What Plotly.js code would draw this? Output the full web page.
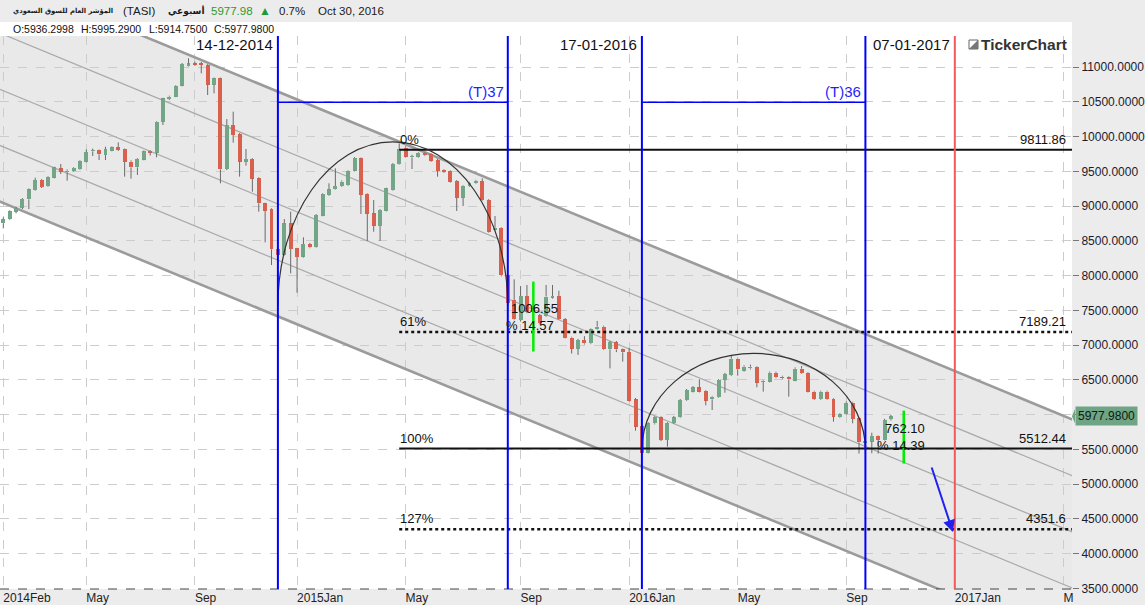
<!DOCTYPE html>
<html><head><meta charset="utf-8">
<script src="https://cdn.plot.ly/plotly-3.0.1.min.js"></script>
<style>html,body{margin:0;padding:0;background:#ececec;overflow:hidden}#chart{width:1145px;height:605px}</style>
</head><body><div id="chart"></div>
<script>
// ---- weekly OHLC data (bar index 0 = first week of Feb 2014, last = week of Oct 30 2016)
const opens  = [8753,8811,8921,8974,9098,9233,9377,9290,9410,9545,9487,9511,9535,9640,9789,9808,9736,9799,9847,9823,
                9640,9559,9669,9794,9770,10216,10542,10576,10734,11017,11056,11056,11032,10749,10840,9535,10168,10034,9640,9679,
                9410,9041,8959,8379,8302,8753,8393,8273,8456,8408,8863,9161,9242,9290,9300,9511,9688,9175,8897,8715,
                8935,9233,9607,9842,9703,9712,9760,9751,9664,9521,9511,9362,9122,9290,9329,9362,9089,8652,8691,8010,
                7650,7362,7707,7482,7434,7420,7684,7708,7372,7108,6950,7074,7026,7228,7266,6940,7045,6940,6902,6220,
                5841,5453,5875,5961,5635,5875,5961,6211,6331,6393,6345,6220,6249,6499,6571,6806,6633,6666,6691,6470,
                6475,6604,6547,6537,6489,6662,6595,6331,6225,6331,6230,5961,6009,6172,5950,5590,5611,5693,5635,5936.2998];
const highs  = [8840,8940,8993,9115,9255,9410,9390,9430,9568,9607,9530,9560,9660,9818,9828,9815,9856,9860,9918,9830,
                9660,9690,9800,9805,10220,10560,10590,10740,11060,11128,11080,11075,11045,10850,10850,10254,10360,10050,9823,9690,
                9420,9050,8970,8400,8815,8921,8400,8552,8470,8885,9185,9329,9545,9370,9520,9705,9700,9185,9089,8955,
                9265,9620,9904,9860,9740,9780,9775,9760,9680,9530,9520,9375,9300,9350,9380,9400,9100,8858,8700,8020,
                7947,7851,7866,7560,7450,7866,7866,7784,7390,7120,7090,7130,7240,7348,7280,7060,7060,6950,6960,6240,
                5860,5890,5975,5975,5890,5980,6225,6370,6410,6508,6355,6270,6510,6600,6858,6820,6710,6720,6700,6500,
                6620,6620,6560,6550,6680,6700,6610,6345,6345,6345,6240,6020,6190,6185,5960,5755,5740,5700,5940,5995.29];
const lows   = [8681,8800,8897,8959,8959,9225,9262,9280,9400,9463,9367,9500,9525,9630,9722,9664,9664,9790,9795,9425,
                9396,9449,9660,9730,9703,10168,10530,10570,10725,11010,11020,10912,10600,10624,9329,9520,9914,9425,9583,9209,
                8921,8480,8153,8290,8290,8033,7755,8260,8395,8400,8855,9150,9235,9280,9290,9500,8887,8499,8633,8499,
                8925,9225,9600,9700,9535,9700,9720,9640,9425,9480,9340,8931,9002,9280,9320,9080,8620,8640,7990,7590,
                7360,7340,7460,7400,7300,7410,7670,7362,7098,6880,6860,7010,7015,7220,6930,6666,6900,6763,6190,5769,
                5443,5443,5860,5620,5539,5865,5950,6200,6320,6320,6134,6067,6240,6316,6560,6561,6620,6650,6393,6331,
                6465,6525,6510,6259,6480,6585,6320,6215,6215,6210,5899,5950,6000,5875,5440,5440,5444,5440,5630,5914.75];
const closes = [8815,8926,8969,9103,9242,9377,9276,9420,9559,9497,9511,9549,9650,9780,9808,9746,9823,9847,9808,9640,
                9559,9679,9789,9770,10211,10552,10576,10729,11046,11056,11036,11036,10749,10840,9530,10168,10024,9640,9679,9396,
                9041,8935,8379,8302,8753,8384,8268,8456,8408,8873,9175,9242,9290,9353,9511,9693,9161,8892,8715,8945,
                9257,9607,9823,9712,9722,9770,9731,9655,9511,9492,9353,9122,9290,9338,9367,9089,8633,8691,8005,7602,
                7371,7707,7482,7500,7314,7700,7708,7372,7108,6950,7074,7026,7228,7266,6940,7045,6940,6897,6201,5827,
                5453,5875,5961,5635,5875,5961,6211,6355,6393,6331,6201,6259,6499,6585,6806,6652,6691,6691,6460,6489,
                6604,6537,6523,6508,6662,6595,6331,6225,6331,6220,5971,6009,6172,5940,5600,5615,5693,5635,5923,5977.98];

// x-axis tick labels (bar index of first bar of each month)
const tickIndex  = [0,13,30,46,63,81,98,115,132,149,166];
const tickLabels = ['2014Feb','May','Sep','2015Jan','May','Sep','2016Jan','May','Sep','2017Jan','M'];
// y-axis price ticks (6000 hidden behind the last-price tag)
const priceTicks = [3500,4000,4500,5000,5500,6000,6500,7000,7500,8000,8500,9000,9500,10000,10500,11000];

// drawing tools on the chart
const cycleBars   = [43,79,100,135];
const cycleDates  = ['14-12-2014','17-01-2016'];
const cycleCounts = ['(T)37','(T)36'];
const cycleLevel  = 10495;
const redBar = 149, redDate = '07-01-2017';
const fibStartBar = 62;
const fibLevels = [9811.86, 7189.21, 5512.44, 4351.6];
const fibPct    = ['0%','61%','100%','127%'];
const fibLabels = ['9811.86','7189.21','5512.44','4351.6'];
const fibDotted = [false,true,false,true];
const arcs = [{b0:43,b1:79,base:7563,top:9925},{b0:100,b1:135,base:5491,top:6883}];
const measures = [{bar:83,lo:6908,hi:7915,diff:'1006.55',pct:'% 14.57'},{bar:141,lo:5296,hi:6058,diff:'762.10',pct:'% 14.39'}];
const channelTop0 = 12280, channelSlope = -37.93, channelStep = 808.7;
const arrowFrom = [145.3, 5261], arrowTo = [148.7, 4311];

const n = closes.length;
const idx = closes.map((_, i) => i);
const GREEN = '#72a687', RED = '#d9604c';

const bodyBase = idx.map(i => Math.min(opens[i], closes[i]));
const bodyH = idx.map(i => Math.max(Math.abs(closes[i] - opens[i]), 12));
const bodyCol = idx.map(i => closes[i] >= opens[i] ? GREEN : RED);
const wx = [], wy = [];
idx.forEach(i => {
  const top = Math.max(opens[i], closes[i]), bot = Math.min(opens[i], closes[i]);
  wx.push(i, i, null, i, i, null);
  wy.push(highs[i], top, null, bot, lows[i], null);
});

const XR = [-0.517, 167.35], YR = [3491, 11449];
const F = 'Liberation Sans, Arial, sans-serif';
const last = closes[n-1];

const shapes = [];
shapes.push({type:'rect', xref:'paper', yref:'paper', x0:0, x1:1, y0:1, y1:1.0254, fillcolor:'#ffffff', line:{width:0}, layer:'below'});
const cv = (i, k) => channelTop0 + channelSlope * i - k * channelStep;
const ca = -5, cb = 175;
shapes.push({type:'path', xref:'x', yref:'y', layer:'below', fillcolor:'#e9e9e9', line:{width:0},
  path:`M ${ca},${cv(ca,0)} L ${cb},${cv(cb,0)} L ${cb},${cv(cb,4)} L ${ca},${cv(ca,4)} Z`});
for (let k = 0; k <= 4; k++) {
  const outer = (k === 0 || k === 4);
  shapes.push({type:'line', xref:'x', yref:'y', layer:'between', x0:ca, x1:cb, y0:cv(ca,k), y1:cv(cb,k),
    line:{color: outer ? '#9b9b9b' : '#a9a9a9', width: outer ? 2.6 : 1.2}});
}
shapes.push({type:'line', xref:'paper', yref:'paper', x0:0, x1:1, y0:0, y1:0, line:{color:'#444', width:1, dash:'dash'}});
fibLevels.forEach((v, k) => {
  shapes.push({type:'line', xref:'x', yref:'y', x0:fibStartBar, x1:XR[1], y0:v, y1:v,
    line:{color:'#111', width: fibDotted[k] ? 2.6 : 2, dash: fibDotted[k] ? 'dot' : 'solid'}});
});
arcs.forEach(a => {
  const k = 0.5523, cx = (a.b0 + a.b1) / 2, rx = (a.b1 - a.b0) / 2, ry = a.top - a.base;
  shapes.push({type:'path', xref:'x', yref:'y', line:{color:'#333', width:1.2},
    path:`M ${a.b0},${a.base} C ${a.b0},${a.base + k*ry} ${cx - k*rx},${a.top} ${cx},${a.top} C ${cx + k*rx},${a.top} ${a.b1},${a.base + k*ry} ${a.b1},${a.base}`});
});
cycleBars.forEach(b => shapes.push({type:'line', xref:'x', yref:'paper', x0:b, x1:b, y0:0, y1:1, line:{color:'#0000ff', width:2}}));
shapes.push({type:'line', xref:'x', yref:'y', x0:cycleBars[0], x1:cycleBars[1], y0:cycleLevel, y1:cycleLevel, line:{color:'#0000ff', width:1.5}});
shapes.push({type:'line', xref:'x', yref:'y', x0:cycleBars[2], x1:cycleBars[3], y0:cycleLevel, y1:cycleLevel, line:{color:'#0000ff', width:1.5}});
shapes.push({type:'line', xref:'x', yref:'paper', x0:redBar, x1:redBar, y0:0, y1:1, line:{color:'#f25a5a', width:2}});
measures.forEach(m => shapes.push({type:'line', xref:'x', yref:'y', x0:m.bar, x1:m.bar, y0:m.lo, y1:m.hi, line:{color:'#00ee00', width:2.5}}));
shapes.push({type:'path', xref:'paper', yref:'y', fillcolor:'#6fa585', line:{width:0},
  path:`M ${1075/1072},${last+105} L ${1072/1072},${last} L ${1075/1072},${last-105} Z`});
shapes.push({type:'rect', xref:'paper', yref:'paper', x0:969/1072, x1:978/1072, y0:(589-49)/553, y1:(589-40)/553, line:{color:'#666', width:1}, fillcolor:'#fff'});
shapes.push({type:'path', xref:'paper', yref:'paper', fillcolor:'#777', line:{width:0},
  path:`M ${969/1072},${(589-49)/553} L ${978/1072},${(589-49)/553} L ${978/1072},${(589-40)/553} Z`});

const ann = [];
const hy = (589 - 11) / 553, oy = (589 - 29) / 553, dy = (589 - 44) / 553;
const px = p => p / 1072;
const hdr = (t, x, anchor, color, size, fam) => ann.push({text:t, xref:'paper', yref:'paper', x:px(x), y:hy, xanchor:anchor, yanchor:'middle', showarrow:false, font:{family:fam || F, size:size || 11.5, color:color || '#1a1a1a'}});
hdr('<b>المؤشر العام للسوق السعودي</b>', 11, 'left', '#1a1a1a', 6.8, 'DejaVu Sans, sans-serif');
hdr('(TASI)', 121, 'left');
hdr('<b>أسبوعي</b>', 166, 'left', '#1a1a1a', 9, 'DejaVu Sans, sans-serif');
hdr(last.toFixed(2), 209, 'left', '#2e9a2e');
hdr('▲', 257, 'left', '#1f9a3a', 12);
hdr('0.7%', 277, 'left');
hdr('Oct 30, 2016', 316, 'left');
const ohlcText = ['O:' + opens[n-1].toFixed(4), 'H:' + highs[n-1].toFixed(4), 'L:' + lows[n-1].toFixed(4), 'C:' + closes[n-1].toFixed(4)];
[11, 79, 147, 212].forEach((x, k) => ann.push({text:ohlcText[k], xref:'paper', yref:'paper', x:px(x), y:oy, xanchor:'left', yanchor:'middle', showarrow:false, font:{family:F, size:10.5, color:'#111'}}));
[[cycleBars[0], cycleDates[0]], [cycleBars[2], cycleDates[1]], [redBar, redDate]].forEach(([b, t]) =>
  ann.push({text:t, xref:'x', yref:'paper', x:b, y:dy, xanchor:'right', yanchor:'middle', xshift:-3, showarrow:false, font:{family:F, size:15, color:'#111'}}));
[[cycleBars[1], cycleCounts[0]], [cycleBars[3], cycleCounts[1]]].forEach(([b, t]) =>
  ann.push({text:t, xref:'x', yref:'y', x:b, y:cycleLevel, xanchor:'right', yanchor:'bottom', xshift:-2, yshift:0, showarrow:false, font:{family:F, size:15, color:'#1f1fff'}}));
ann.push({text:'<b>TickerChart</b>', xref:'paper', yref:'paper', x:px(979), y:dy, xanchor:'left', yanchor:'middle', showarrow:false, font:{family:F, size:15.5, color:'#333'}});
fibLevels.forEach((v, k) => {
  ann.push({text:fibPct[k], xref:'x', yref:'y', x:fibStartBar, y:v, xanchor:'left', yanchor:'bottom', xshift:-1, yshift:1, showarrow:false, font:{family:F, size:13, color:'#111'}});
  ann.push({text:fibLabels[k], xref:'paper', yref:'y', x:px(1068), y:v, xanchor:'right', yanchor:'bottom', yshift:1, showarrow:false, font:{family:F, size:13, color:'#111'}});
});
measures.forEach(m => {
  const mid = (m.lo + m.hi) / 2;
  ann.push({text:m.diff, xref:'x', yref:'y', x:m.bar, y:mid, xanchor:'center', yanchor:'bottom', xshift:1, yshift:-1, showarrow:false, font:{family:F, size:13, color:'#111'}});
  ann.push({text:m.pct, xref:'x', yref:'y', x:m.bar, y:mid, xanchor:'center', yanchor:'top', xshift:-3, yshift:1, showarrow:false, font:{family:F, size:13, color:'#111'}});
});
ann.push({text:'', xref:'x', yref:'y', axref:'x', ayref:'y', x:arrowTo[0], y:arrowTo[1], ax:arrowFrom[0], ay:arrowFrom[1], showarrow:true, arrowhead:2, arrowsize:1.2, arrowwidth:2, arrowcolor:'#2222ee', standoff:0});
ann.push({text:last.toFixed(4), xref:'paper', yref:'y', x:px(1075), y:last, xanchor:'left', yanchor:'middle', showarrow:false, bgcolor:'#6fa585', borderpad:2, font:{family:F, size:12, color:'#0c1a10'}});

const traces = [
  {type:'bar', x:idx, y:bodyH, base:bodyBase, width:0.62, marker:{color:bodyCol, line:{width:0}}, hoverinfo:'skip', showlegend:false},
  {type:'scatter', mode:'lines', x:wx, y:wy, line:{color:'#6a6a6a', width:1}, hoverinfo:'skip', showlegend:false, connectgaps:false}
];

const layout = {
  width:1145, height:605, margin:{l:0, r:73, t:36, b:16, pad:0},
  paper_bgcolor:'#ececec', plot_bgcolor:'#ffffff', showlegend:false, bargap:0,
  xaxis:{range:XR, tickvals:tickIndex, ticktext:tickLabels, showgrid:true, gridcolor:'#cccccc', griddash:'dash', gridwidth:1,
    zeroline:false, showline:false, ticks:'', ticklabelposition:'outside right', tickfont:{family:F, size:12, color:'#222'}, automargin:false, fixedrange:true},
  yaxis:{range:YR, side:'right', tickvals:priceTicks, ticktext:priceTicks.map(v => v === 6000 ? '' : v.toFixed(4)), showgrid:true, gridcolor:'#cccccc', griddash:'dash', gridwidth:1,
    zeroline:false, showline:false, ticks:'outside', ticklen:6, tickcolor:'#777', tickfont:{family:F, size:12, color:'#1b1b2e'}, automargin:false, fixedrange:true},
  shapes:shapes, annotations:ann
};
Plotly.newPlot('chart', traces, layout, {staticPlot:true, displayModeBar:false});
</script></body></html>
